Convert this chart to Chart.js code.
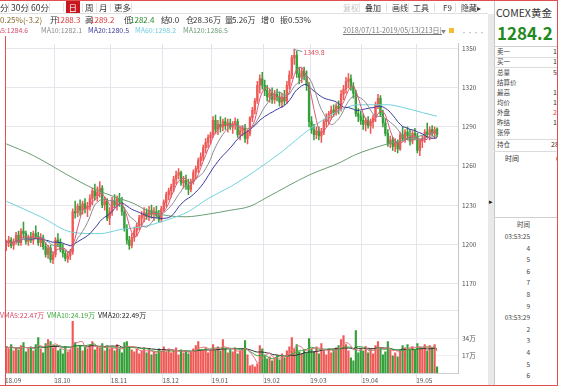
<!DOCTYPE html>
<html>
<head>
<meta charset="utf-8">
<title>COMEX黄金 日K</title>
<script src="https://cdn.jsdelivr.net/npm/chart.js@4.4.1/dist/chart.umd.min.js"></script>
<style>
  body { margin:0; width:562px; height:392px; overflow:hidden; background:#fff; position:relative;
         font-family:"Noto Sans CJK SC","Noto Sans",sans-serif; color:#333; }
  .t { position:absolute; white-space:nowrap; line-height:1; }
  .ln { position:absolute; }
  #kline { position:absolute; left:0; top:36px; }
  #side { position:absolute; left:494px; top:0; width:68px; height:386px; overflow:hidden; }
</style>
</head>
<body>
<canvas id="kline" width="490" height="356"></canvas>
<div id="side"></div>
<script>
// month ticks (index of first trading day) and labels
var monthStarts = [0, 20, 43, 64, 84, 105, 124, 145, 167];
var monthLabels = ['18.09', '18.10', '18.11', '18.12', '19.01', '19.02', '19.03', '19.04', '19.05'];
var priceTicks = [1170, 1200, 1230, 1260, 1290, 1320, 1350];
var volTicks = [17, 34];

// daily candles, Sep 2018 .. May 13 2019
var opens = [
  1199,1201,1203,1199,1202,1207,1201,1210,1208,1202,1205,1203,1208,1206,1201,1205,1198,1192,1197,1188,
  1192,1203,1201,1196,1193,1189,1191,1194,1225,1224,1229,1226,1231,1227,1229,1235,1241,1237,1240,1243,1230,1233,1220,
  1225,1233,1230,1235,1232,1225,1212,1203,1199,1205,1210,1214,1220,1222,1224,1221,1226,1223,1225,1222,1219,
  1227,1232,1238,1241,1244,1250,1253,1255,1247,1249,1245,1242,1248,1255,1258,1264,1267,1274,1278,1282,
  1284,1295,1288,1292,1290,1294,1291,1293,1290,1292,1294,1284,1287,1289,1281,1285,1297,1303,1310,1322,1327,
  1322,1318,1313,1316,1311,1315,1313,1309,1313,1310,1322,1330,1343,1345,1331,1328,1333,1329,1322,
  1294,1288,1284,1287,1283,1286,1294,1297,1300,1303,1301,1306,1304,1315,1319,1325,1327,1321,1316,1300,1298,
  1295,1292,1295,1291,1294,1297,1307,1312,1300,1293,1285,1277,1280,1275,1278,1273,1284,1281,1286,1283,1279,1285,
  1283,1272,1279,1281,1286,1284,1288,1285,1288.3
];
var highs = [
  1203,1206,1205,1204,1209,1210,1212,1217,1210,1207,1209,1210,1214,1209,1208,1207,1201,1199,1199,1194,
  1205,1208,1204,1200,1195,1194,1196,1227,1233,1231,1234,1233,1235,1232,1238,1243,1246,1244,1248,1245,1236,1235,1228,
  1236,1238,1237,1239,1236,1228,1215,1206,1208,1213,1216,1222,1225,1228,1227,1229,1230,1228,1229,1226,1229,
  1234,1240,1243,1246,1252,1256,1258,1256,1252,1253,1250,1250,1257,1260,1266,1270,1276,1281,1284,1286,
  1298,1299,1295,1298,1296,1297,1296,1296,1294,1297,1296,1290,1291,1292,1288,1298,1305,1312,1325,1330,1332,
  1326,1322,1319,1320,1318,1319,1317,1316,1318,1325,1333,1345,1349.8,1348,1336,1335,1336,1333,1324,
  1298,1292,1290,1290,1289,1296,1300,1302,1306,1307,1308,1310,1318,1322,1328,1331,1330,1324,1318,1304,1302,
  1300,1297,1298,1296,1299,1309,1315,1314,1303,1296,1288,1283,1282,1281,1280,1286,1290,1288,1290,1288,1287,1289,
  1285,1281,1283,1288,1293,1290,1291,1290,1289.2
];
var lows = [
  1195,1198,1197,1196,1200,1199,1199,1205,1200,1199,1201,1200,1204,1199,1198,1196,1190,1189,1186,1185,
  1190,1198,1194,1190,1187,1186,1188,1192,1220,1221,1222,1223,1224,1221,1226,1230,1234,1233,1236,1228,1226,1218,1215,
  1222,1228,1226,1229,1222,1210,1200,1196,1197,1202,1206,1211,1215,1217,1219,1218,1220,1218,1220,1217,1217,
  1225,1229,1234,1236,1240,1246,1250,1245,1243,1242,1238,1240,1246,1250,1255,1260,1264,1270,1274,1277,
  1282,1285,1284,1286,1287,1288,1286,1288,1285,1288,1282,1280,1283,1278,1277,1283,1294,1300,1308,1316,1319,
  1314,1310,1309,1308,1308,1310,1306,1305,1307,1308,1319,1327,1338,1328,1323,1324,1326,1318,1290,
  1285,1280,1281,1280,1278,1284,1290,1292,1296,1298,1299,1300,1302,1311,1316,1320,1318,1312,1298,1294,1292,
  1288,1287,1289,1285,1289,1294,1304,1298,1290,1283,1275,1274,1272,1271,1270,1272,1279,1278,1280,1276,1277,1280,
  1270,1268,1274,1278,1282,1280,1283,1281,1282.4
];
var closes = [
  1201,1203,1199,1202,1207,1201,1210,1208,1202,1205,1203,1208,1206,1201,1205,1198,1192,1197,1188,1192,
  1203,1201,1196,1193,1189,1191,1194,1225,1224,1229,1226,1231,1227,1229,1235,1241,1237,1240,1243,1230,1233,1220,1225,
  1233,1230,1235,1232,1225,1212,1203,1199,1205,1210,1214,1220,1222,1224,1221,1226,1223,1225,1222,1219,1227,
  1232,1238,1241,1244,1250,1253,1255,1247,1249,1245,1242,1248,1255,1258,1264,1267,1274,1278,1282,1284,
  1295,1288,1292,1290,1294,1291,1293,1290,1292,1294,1284,1287,1289,1281,1285,1297,1303,1310,1322,1327,1322,
  1318,1313,1316,1311,1315,1313,1309,1313,1310,1322,1330,1343,1345,1331,1328,1333,1329,1322,1294,
  1288,1284,1287,1283,1286,1294,1297,1300,1303,1301,1306,1304,1315,1319,1325,1327,1321,1316,1300,1298,1295,
  1292,1295,1291,1294,1297,1307,1312,1300,1293,1285,1277,1280,1275,1278,1273,1284,1281,1286,1283,1279,1285,1283,
  1272,1279,1281,1286,1284,1288,1285,1288,1284.2
];
// volume, 万手
var volumes = [
  26,24,28,22,25,23,27,30,21,24,26,22,28,35,24,20,29,33,31,25,
  27,22,24,19,26,21,23,51,30,25,27,22,26,24,28,31,23,26,25,29,22,27,24,
  25,22,28,24,20,30,31,26,23,21,24,19,22,25,20,23,18,21,19,24,22,
  26,21,24,20,22,25,18,23,20,22,19,21,24,27,31,23,22,25,20,24,
  28,23,26,22,33,24,20,23,21,25,19,22,24,32,18,7,8,6,9,27,24,
  18,14,16,12,15,17,13,19,15,22,26,35,24,28,21,19,23,20,34,
  24,21,26,19,29,22,18,24,20,23,25,27,33,37,28,22,15,12,42,20,24,
  22,26,20,24,19,27,31,25,18,21,31,23,17,20,16,22,27,25,28,24,26,23,
  29,26,24,28,22,27,25,28,6
];
// long averages (day index, value)
var ma60Days = [0, 14, 27, 38, 46, 57, 66, 74, 82, 91, 101, 112, 123, 130, 137, 143, 155, 161, 169, 175];
var ma60 = [1233, 1221, 1209, 1208, 1211, 1214, 1219, 1225, 1235, 1244, 1256, 1271, 1288, 1297, 1304, 1307, 1307, 1305, 1301, 1298.2];
var ma120Days = [0, 11, 25, 35, 43, 52, 57, 65, 73, 82, 91, 99, 106, 123, 136, 141, 155, 166, 175];
var ma120 = [1277, 1268, 1253, 1243, 1237, 1231, 1226, 1222, 1221, 1223, 1226, 1229, 1236, 1253, 1263, 1268, 1277, 1282, 1286.5];

var RED = '#f05a56', GREEN = '#35a03a';
var F = '"Noto Sans CJK SC", "Noto Sans", sans-serif';

function movingAvg(arr, n) {
  return arr.map(function (_, i) {
    var s = arr.slice(Math.max(0, i - n + 1), i + 1);
    return s.reduce(function (a, b) { return a + b; }, 0) / s.length;
  });
}
function isUp(i) { return closes[i] >= opens[i]; }
function candleColor(c) { return isUp(c.dataIndex) ? RED : GREEN; }
function maLine(vals, color, axis) {
  return { type: 'line', data: vals.map(function (v, i) { return { x: i, y: v }; }),
           borderColor: color, borderWidth: 1, pointRadius: 0, yAxisID: axis };
}
function sparseLine(days, vals, color) {
  return { type: 'line', data: days.map(function (d, k) { return { x: d, y: vals[k] }; }),
           borderColor: color, borderWidth: 1, pointRadius: 0, yAxisID: 'y',
           cubicInterpolationMode: 'monotone' };
}

var idx = closes.map(function (_, i) { return i; });

var peakLabel = {
  id: 'peakLabel',
  afterDatasetsDraw: function (chart) {
    var k = highs.indexOf(Math.max.apply(null, highs));
    var x = chart.scales.x.getPixelForValue(k), y = chart.scales.y.getPixelForValue(highs[k]);
    var c = chart.ctx;
    c.save();
    c.strokeStyle = '#6a9a90'; c.lineWidth = 1;
    c.beginPath(); c.moveTo(x, y + 0.5); c.lineTo(x + 8, y + 2.5); c.stroke();
    c.fillStyle = '#d8505a'; c.font = '7px ' + F; c.textBaseline = 'middle';
    c.fillText(highs[k].toFixed(1), x + 9, y + 3);
    c.restore();
  }
};

new Chart(document.getElementById('kline'), {
  type: 'bar',
  data: {
    datasets: [
      maLine(movingAvg(closes, 5), '#e0587a', 'y'),
      maLine(movingAvg(closes, 10), '#8c8c8c', 'y'),
      maLine(movingAvg(closes, 20), '#3a3a9c', 'y'),
      sparseLine(ma60Days, ma60, '#72d2dc'),
      sparseLine(ma120Days, ma120, '#6c9c74'),
      maLine(movingAvg(volumes, 5), '#e07888', 'yv'),
      maLine(movingAvg(volumes, 10), '#3aaa3a', 'yv'),
      maLine(movingAvg(volumes, 20), '#303030', 'yv'),
      { type: 'bar', data: idx.map(function (i) { return { x: i, y: [opens[i], closes[i]] }; }),
        backgroundColor: candleColor, barThickness: 1.7, minBarLength: 1, grouped: false, yAxisID: 'y' },
      { type: 'bar', data: idx.map(function (i) { return { x: i, y: [lows[i], highs[i]] }; }),
        backgroundColor: candleColor, barThickness: 0.9, grouped: false, yAxisID: 'y' },
      { type: 'bar', data: idx.map(function (i) { return { x: i, y: volumes[i] }; }),
        backgroundColor: candleColor, barThickness: 1.5, grouped: false, yAxisID: 'yv' }
    ]
  },
  options: {
    responsive: false,
    animation: false,
    devicePixelRatio: 1,
    layout: { padding: { left: 5, right: 0, top: 0, bottom: 4 } },
    plugins: { legend: { display: false }, tooltip: { enabled: false } },
    scales: {
      x: {
        type: 'linear', min: -0.5, max: 183.5, offset: false,
        grid: { color: '#e4e4ea', offset: false, drawTicks: true, tickLength: 10, tickColor: '#e4e4ea' },
        border: { color: '#cfcfd6' },
        ticks: {
          autoSkip: false, maxRotation: 0, align: 'start', padding: -6, color: '#555',
          font: { size: 6.5, family: F },
          callback: function (v) { var k = monthStarts.indexOf(v + 0.5); return k >= 0 ? monthLabels[k] : ''; }
        },
        afterBuildTicks: function (s) { s.ticks = monthStarts.map(function (m) { return { value: m - 0.5 }; }); },
        afterFit: function (s) { s.height = 15; }
      },
      y: {
        type: 'linear', position: 'right', stack: 'k', stackWeight: 273, min: 1149, max: 1353.75,
        grid: { color: '#e6e6ec', drawTicks: false },
        border: { color: '#c6c6ce' },
        ticks: {
          padding: 4, color: '#555', font: { size: 6.5, family: F },
          callback: function (v) { return priceTicks.indexOf(v) >= 0 ? String(v) : ''; }
        },
        afterBuildTicks: function (s) { s.ticks = [s.min].concat(priceTicks).map(function (v) { return { value: v }; }); },
        afterFit: function (s) { s.width = 32; }
      },
      yv: {
        type: 'linear', position: 'right', stack: 'k', stackWeight: 64, min: 0, max: 61.8,
        grid: { color: '#efeff3', drawTicks: false },
        border: { color: '#c6c6ce' },
        ticks: {
          padding: 4, color: '#555', font: { size: 6.5, family: F },
          callback: function (v) { return v + '万'; }
        },
        afterBuildTicks: function (s) { s.ticks = volTicks.map(function (v) { return { value: v }; }); },
        afterFit: function (s) { s.width = 32; }
      }
    }
  },
  plugins: [peakLabel]
});

// ---- page chrome: toolbar, quote row, legends, side panel ----
function put(parent, x, yc, s, size, color, extra) {
  var d = document.createElement('div');
  d.className = 't';
  d.textContent = s;
  d.style.left = x + 'px';
  d.style.top = (yc - size * 0.56) + 'px';
  d.style.fontSize = size + 'px';
  d.style.color = color || '#333';
  if (extra) d.style.cssText += extra;
  parent.appendChild(d);
  return d;
}
function rect(parent, x, y, w, h, color) {
  var d = document.createElement('div');
  d.className = 'ln';
  d.style.cssText += 'left:' + x + 'px;top:' + y + 'px;width:' + w + 'px;height:' + h + 'px;background:' + color;
  parent.appendChild(d);
}
var B = document.body, S = document.getElementById('side');

// toolbar
rect(B, 66, 1, 14, 12, '#c8171e');
put(B, 0, 8, '分', 8.5); put(B, 11, 8, '30分', 8.5); put(B, 31, 8, '60分', 8.5);
put(B, 68.5, 8, '日', 8.5, '#fff'); put(B, 85, 8, '周', 8.5); put(B, 99, 8, '月', 8.5); put(B, 114, 8, '更多', 8.5);
[8, 28, 49, 63, 82, 96, 110, 131].forEach(function (x) { rect(B, x, 3, 1, 9, '#e2e2e2'); });
put(B, 343, 8, '复权', 8, '#c4c4c4'); put(B, 365, 8, '叠加', 8); put(B, 392, 8, '画线', 8);
put(B, 413, 8, '工具', 8); put(B, 443, 8, 'F9', 8); put(B, 461, 8, '隐藏▸', 8);
[359, 386, 408, 434, 455].forEach(function (x) { rect(B, x, 3, 1, 9, '#e2e2e2'); });
rect(B, 0, 13, 488, 1, '#e0e0e0');

// quote row
put(B, 0, 20, '0.25%(-3.2)', 8, '#8a6a30');
put(B, 50, 20, '开', 8); put(B, 56, 20, '1288.3', 8, '#d8403c');
put(B, 85, 20, '高', 8); put(B, 90, 20, '1289.2', 8, '#d8403c');
put(B, 124, 20, '低', 8); put(B, 130, 20, '1282.4', 8, '#2a8a2a');
put(B, 161, 20, '结', 8); put(B, 168, 20, '0.0', 8);
put(B, 186, 20, '仓', 8); put(B, 193, 20, '28.36万', 8);
put(B, 225, 20, '量', 8); put(B, 232, 20, '5.26万', 8);
put(B, 261, 20, '增', 8); put(B, 270, 20, '0', 8);
put(B, 280, 20, '振', 8); put(B, 288, 20, '0.53%', 8);

// MA legend row
put(B, -9, 31, 'MA5:1284.6', 7, '#d84a6a');
put(B, 41, 31, 'MA10:1282.1', 7, '#8c8c8c');
put(B, 88, 31, 'MA20:1280.5', 7, '#3a3a9c');
put(B, 135, 31, 'MA60:1298.2', 7, '#72cedc');
put(B, 183, 31, 'MA120:1286.5', 7, '#6c9c74');
put(B, 343, 31, '2018/07/11-2019/05/13(213日)', 7, '#777', 'text-decoration:underline;');
put(B, 441, 31, '▼', 5, '#888');
rect(B, 449, 28, 5, 5, '#f0c030');
put(B, 461, 33, '····', 6, '#999');

// volume legend row
put(B, 0, 316, 'VMA5:22.47万', 7, '#d84a6a');
put(B, 47, 316, 'VMA10:24.19万', 7, '#3aaa3a');
put(B, 98, 316, 'VMA20:22.49万', 7, '#222');

// scrollbar strip
rect(B, 488, 14, 6, 372, '#e9e9e9');
put(B, 489, 202, '▸', 7, '#111');

// side panel
rect(S, 0, 0, 1, 386, '#c8c8c8');
put(S, 2, 14, 'COMEX黄金', 10.5, '#333');
put(S, 3, 34, '1284.2', 17, '#1f8a22', 'font-weight:bold;');
rect(S, 0, 46, 64, 1, '#d0d0d0');
var sideRows = ['卖一', '买一', '总量', '结算价', '最高', '均价', '外盘', '昨结', '张停', '持仓'];
var sideVals = ['1', '1', '5', '', '1', '1', '2', '1', '', '28'];
var rowY = [52, 62, 73, 83, 93, 103, 113, 123, 133, 145];
sideRows.forEach(function (r, k) {
  put(S, 3, rowY[k], r, 6.5, '#444');
  put(S, k === 9 ? 57 : 59, rowY[k], sideVals[k], 7, k === 6 ? '#d8403c' : '#333');
});
[57, 67, 139, 151].forEach(function (y) { rect(S, 0, y, 64, 1, '#dcdcdc'); });
put(S, 11, 159, '时间', 7, '#333');
put(S, 62, 159, '6', 7, '#333');
rect(S, 0, 217, 64, 1, '#d0d0d0');
var times = ['时间', '03:53:25', '4', '5', '6', '7', '8', '9', '03:53:29', '2', '3', '4', '5', '6'];
times.forEach(function (s, k) {
  var d = put(S, 0, 225 + k * 11.6, s, 6.5, '#444');
  d.style.left = 'auto'; d.style.right = (562 - 530) + 'px';
});
// mask beyond the frame for the cut-off values
rect(S, 64, 40, 4, 346, '#fff');

// red capture frame
rect(B, 0, 0, 558, 1, '#e05050');
rect(B, 557, 0, 1, 386, '#e05050');
rect(B, 0, 385, 558, 1, '#e05050');
rect(B, 5, 36, 1, 350, '#e05050');
</script>
</body>
</html>
